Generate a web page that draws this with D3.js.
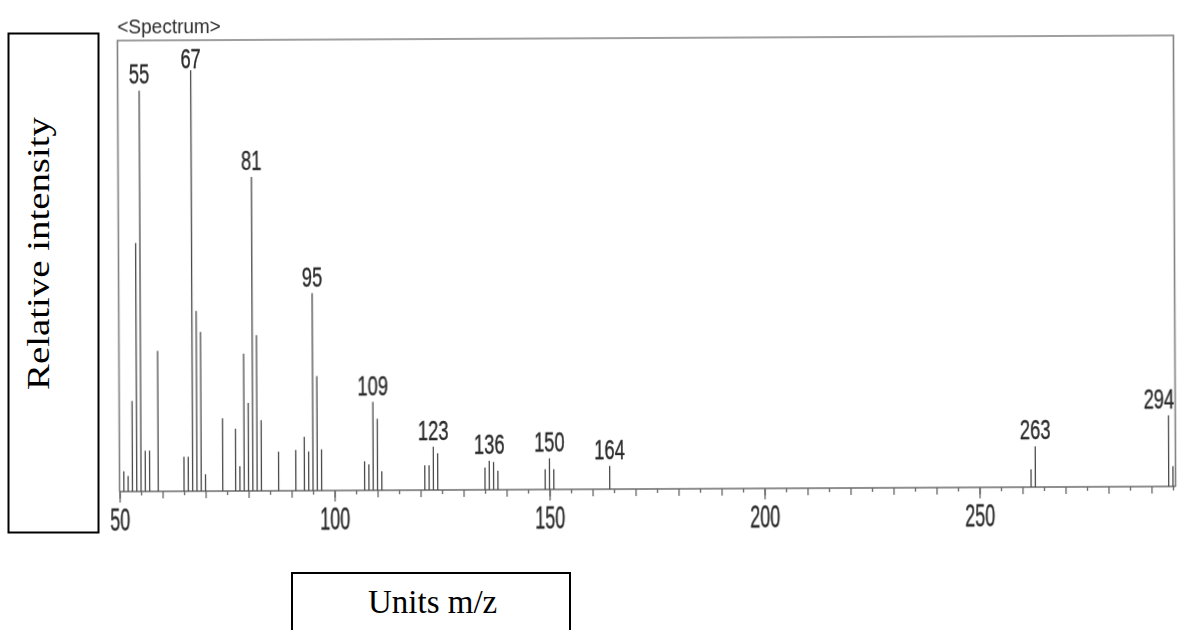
<!DOCTYPE html>
<html>
<head>
<meta charset="utf-8">
<script src="https://cdn.jsdelivr.net/npm/d3@7"></script>
<style>
  html, body { margin: 0; padding: 0; background: #fff; }
  svg { display: block; }
</style>
</head>
<body>
<svg id="chart" width="1186" height="630"></svg>
<script>
// Mass spectrum: m/z positions and relative intensities (% of base peak 67)
const mz = [51, 52, 53, 54, 55, 56, 57, 59, 65, 66, 67, 68, 69, 70,
            74, 77, 78, 79, 80, 81, 82, 83, 87, 91, 93, 94, 95, 96, 97,
            107, 108, 109, 110, 111, 121, 122, 123, 124,
            135, 136, 137, 138, 149, 150, 151, 164, 262, 263, 294, 295];
const intensity = [4.8, 3.7, 21.5, 59.0, 95.2, 9.7, 9.7, 33.4, 8.2, 8.2, 100, 42.8, 37.8, 4.0,
                   17.3, 14.8, 5.9, 32.6, 20.9, 74.6, 37.0, 16.8, 9.3, 9.7, 12.8, 9.3, 46.9, 27.2, 9.8,
                   6.9, 6.2, 21.0, 17.0, 4.5, 5.9, 5.9, 10.3, 8.7,
                   5.3, 6.9, 6.6, 4.5, 4.8, 7.4, 4.8, 5.5, 4.2, 9.7, 16.9, 4.8];
// Peaks carrying an m/z label
const labeledPeaks = [55, 67, 81, 95, 109, 123, 136, 150, 164, 263, 294];
// Axis ticks
const majorTicks = [50, 100, 150, 200, 250];
const mediumTicks = d3.range(50, 296, 10);
const minorTicks = d3.range(55, 296, 10);

const title = "<Spectrum>";
const yLabel = "Relative intensity";
const xLabel = "Units m/z";

const svg = d3.select("#chart");

// Plot frame (slightly tilted, as printed)
const frameLeft = 118.5, frameRight = 1174.5, frameTop = 38, frameBottom = 489;

const x = d3.scaleLinear().domain([50, 295.6]).range([frameLeft, frameRight]);
const y = d3.scaleLinear().domain([0, 100]).range([frameBottom, 68]);

const defs = svg.append("defs");
defs.append("filter").attr("id", "soft")
  .attr("x", "-5%").attr("y", "-5%").attr("width", "110%").attr("height", "110%")
  .append("feGaussianBlur").attr("stdDeviation", 0.45);

const plot = svg.append("g")
  .attr("transform", `rotate(-0.28, ${(frameLeft + frameRight) / 2}, ${(frameTop + frameBottom) / 2})`)
  .attr("filter", "url(#soft)");

// Frame: left, top, right
plot.append("path")
  .attr("d", `M${frameLeft},${frameBottom} V${frameTop} H${frameRight} V${frameBottom}`)
  .attr("fill", "none")
  .attr("stroke", "#808080")
  .attr("stroke-width", 1.6);

// Axis ticks in three lengths
function tickAxis(values, size, labels) {
  const ax = d3.axisBottom(x).tickValues(values).tickSize(size).tickSizeOuter(0)
    .tickPadding(6)
    .tickFormat(labels ? d3.format("d") : () => "");
  const g = plot.append("g").attr("transform", `translate(0,${frameBottom})`).call(ax);
  g.select(".domain").remove();
  g.selectAll(".tick line").attr("stroke", "#666").attr("stroke-width", 1.3);
  return g;
}
tickAxis(minorTicks, 4, false);
tickAxis(mediumTicks, 7, false);
const majorG = tickAxis(majorTicks, 11, true);
majorG.selectAll(".tick text")
  .attr("fill", "#2a2a2a")
  .attr("stroke", "#2a2a2a")
  .attr("stroke-width", 0.4)
  .attr("font-family", "'Liberation Sans', Arial, sans-serif")
  .attr("font-size", 31)
  .attr("transform", "scale(0.58,1)");

// Baseline
plot.append("line")
  .attr("x1", frameLeft).attr("x2", frameRight)
  .attr("y1", frameBottom).attr("y2", frameBottom)
  .attr("stroke", "#6a6a6a").attr("stroke-width", 1.4);

// Peaks as stick lines
const peaks = mz.map((m, i) => ({ m, v: intensity[i] }));
plot.append("g").selectAll("line").data(peaks).join("line")
  .attr("x1", d => x(d.m)).attr("x2", d => x(d.m))
  .attr("y1", y(0)).attr("y2", d => y(d.v))
  .attr("stroke", "#4a4a4a")
  .attr("stroke-width", 1.3);

// Peak labels
const labelScale = 0.68, labelSize = 27;
const labelData = peaks.filter(d => labeledPeaks.includes(d.m));
plot.append("g").selectAll("text").data(labelData).join("text")
  .attr("transform", d => {
    const half = String(d.m).length * 0.556 * labelSize * labelScale / 2;
    const cx = Math.min(x(d.m), frameRight - half - 1);
    const by = Math.max(y(d.v) - 7, frameTop + 28);
    return `translate(${cx},${by}) scale(${labelScale},1)`;
  })
  .attr("text-anchor", "middle")
  .attr("font-family", "'Liberation Sans', Arial, sans-serif")
  .attr("font-size", labelSize)
  .attr("fill", "#2a2a2a")
  .attr("stroke", "#2a2a2a")
  .attr("stroke-width", 0.35)
  .text(d => d.m);

// Title
plot.append("text")
  .attr("transform", `translate(${frameLeft},${frameTop - 7}) scale(0.95,1)`)
  .attr("font-family", "'Liberation Sans', Arial, sans-serif")
  .attr("font-size", 20)
  .attr("fill", "#2a2a2a")
  .text(title);

// Y-axis caption box
svg.append("rect")
  .attr("x", 8.5).attr("y", 33.5).attr("width", 90).attr("height", 499)
  .attr("fill", "none").attr("stroke", "#000").attr("stroke-width", 2);
svg.append("text")
  .attr("transform", "translate(49,253.5) rotate(-90)")
  .attr("text-anchor", "middle")
  .attr("font-family", "'Liberation Serif', 'Times New Roman', serif")
  .attr("font-size", 32)
  .attr("textLength", 273)
  .attr("lengthAdjust", "spacingAndGlyphs")
  .attr("fill", "#000")
  .text(yLabel);

// X-axis caption box
svg.append("rect")
  .attr("x", 292).attr("y", 573).attr("width", 278).attr("height", 90)
  .attr("fill", "none").attr("stroke", "#000").attr("stroke-width", 2);
svg.append("text")
  .attr("x", 368).attr("y", 613)
  .attr("font-family", "'Liberation Serif', 'Times New Roman', serif")
  .attr("font-size", 33)
  .attr("fill", "#000")
  .text(xLabel);
</script>
</body>
</html>
